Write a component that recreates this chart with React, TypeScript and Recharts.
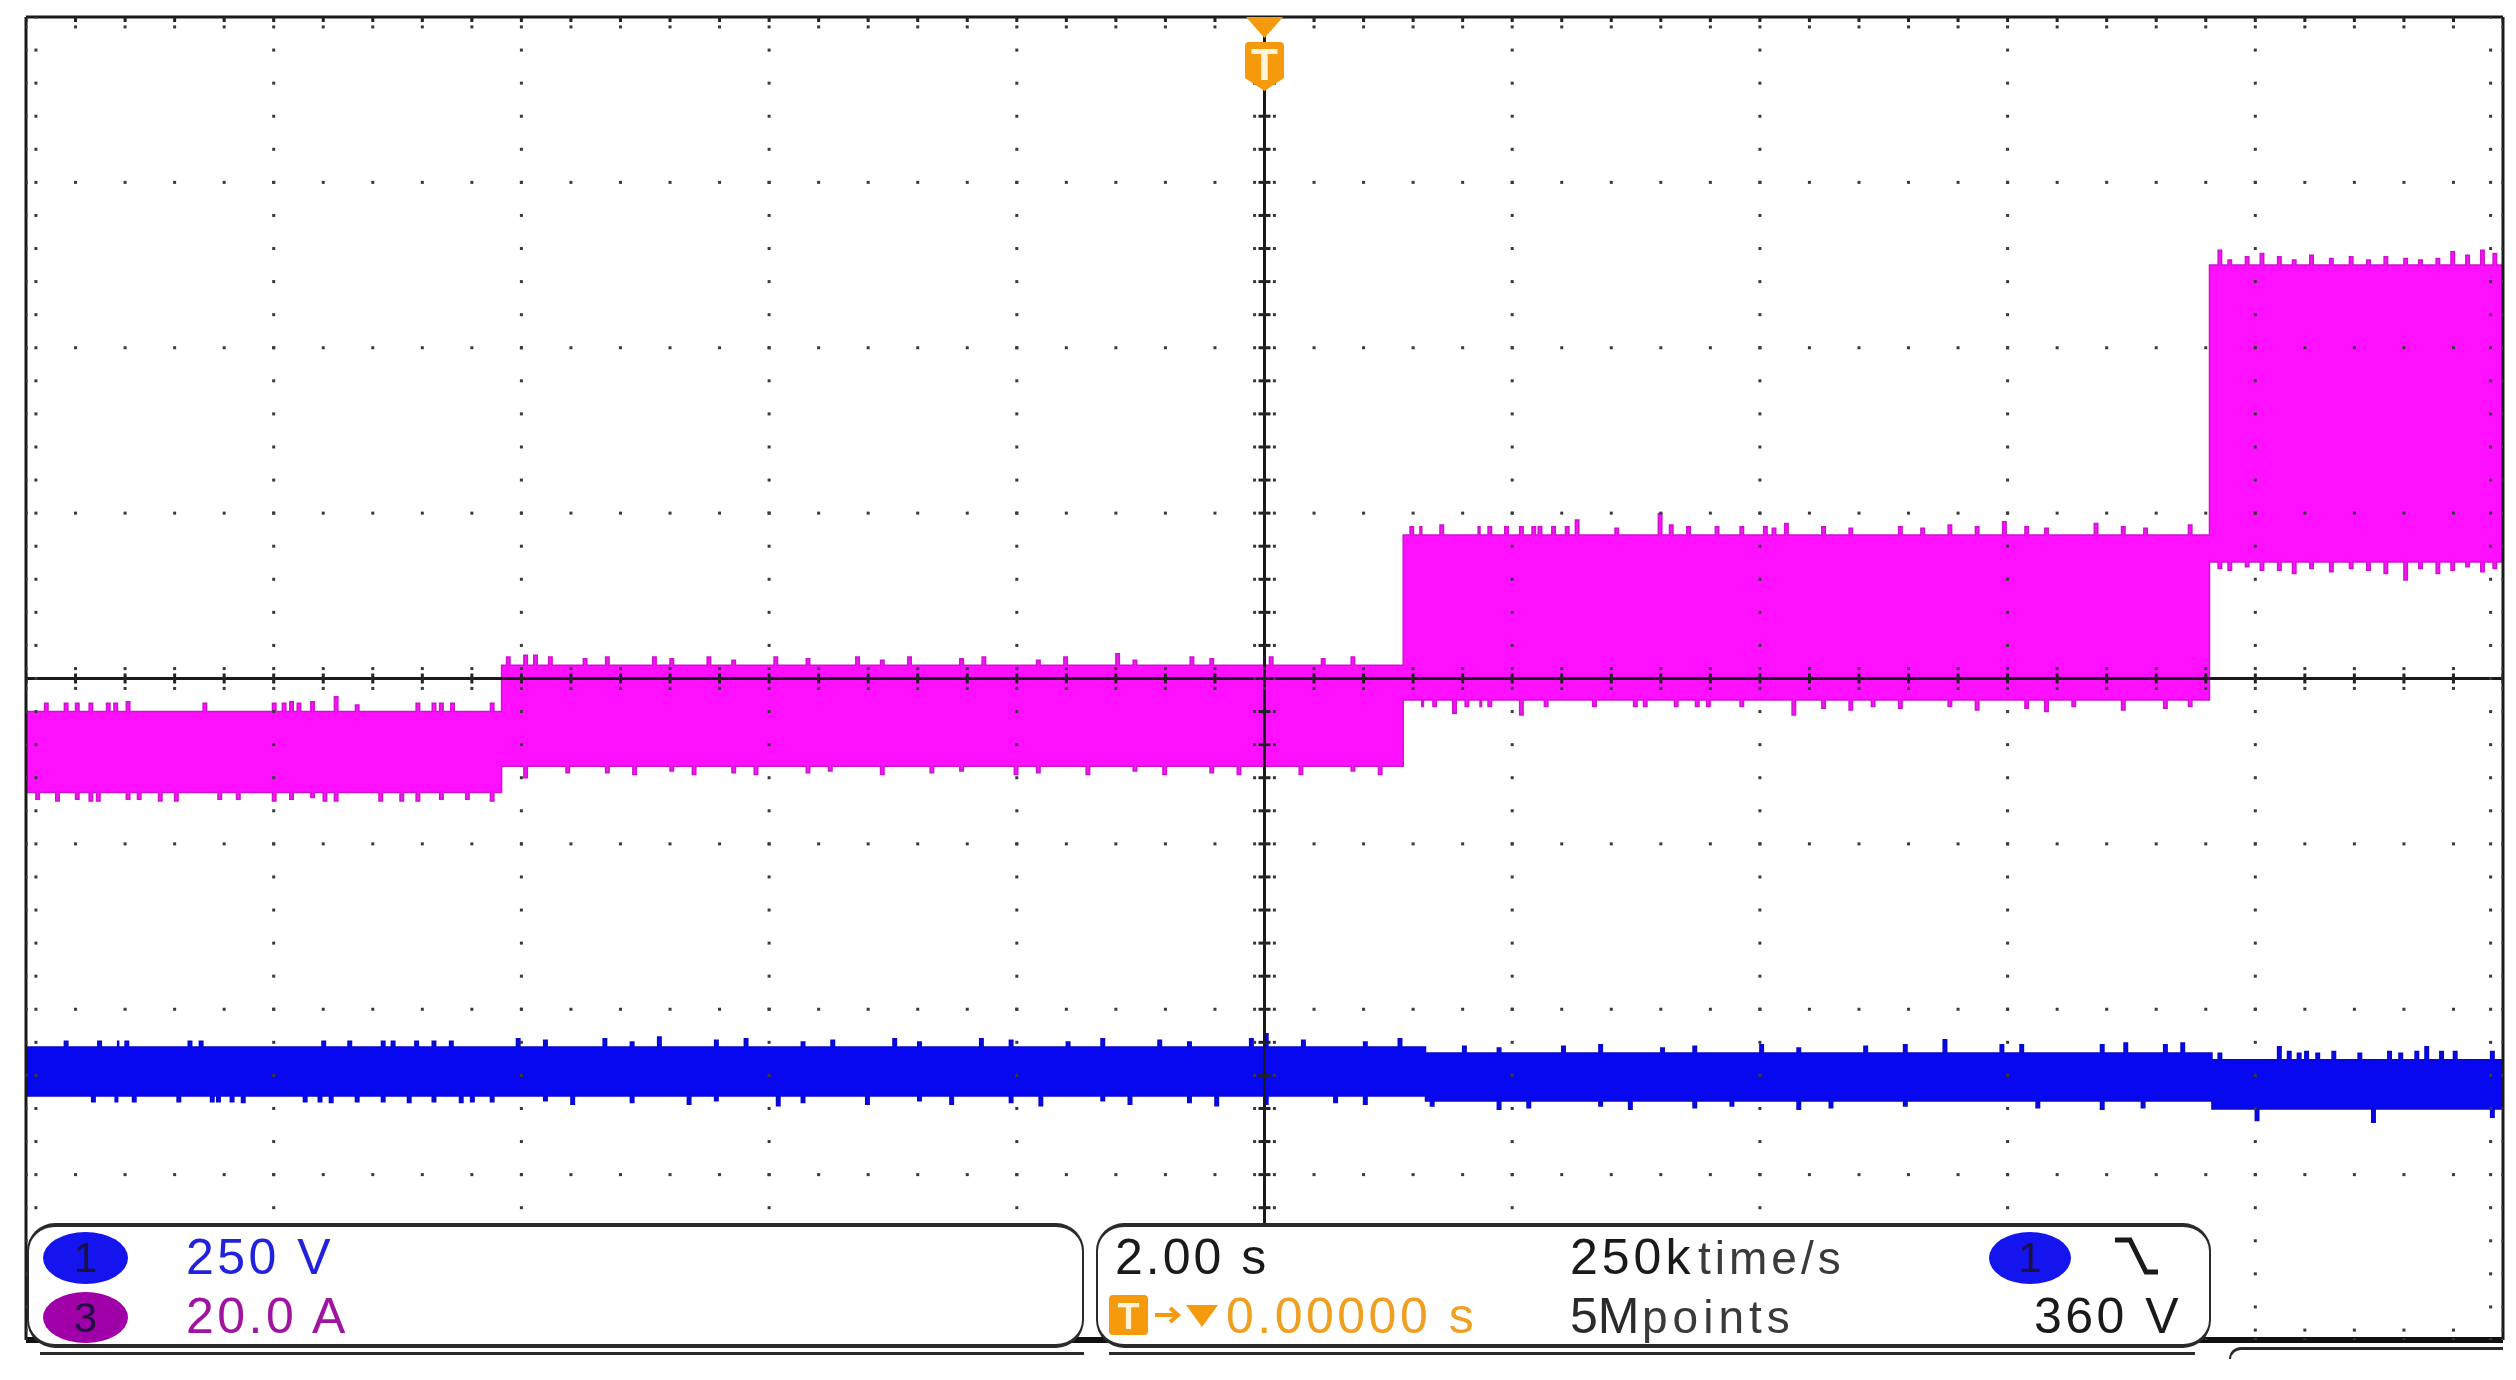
import React from "react";
import { ComposedChart, Area, Scatter, XAxis, YAxis, ReferenceLine } from "recharts";

// time in seconds (2 s/div), vertical position in scope divisions from centre
const majorTimes = [-10, -8, -6, -4, -2, 0, 2, 4, 6, 8, 10];
const majorLevels = [-4, -3, -2, -1, 0, 1, 2, 3, 4];
const minorTimes = [0, 0.4, 0.8, 1.2, 1.6];
const minorLevels = [0, 0.2, 0.4, 0.6, 0.8];

// flat part of the current trace between load steps
const currentStepTime = [-10, -6.16, 1.12, 7.63, 10];
const currentStepHigh = [-0.2, 0.08, 0.868, 2.5, 2.5];
const currentStepLow = [-0.69, -0.53, -0.13, 0.705, 0.705];

// spikes sticking out of the current band
const currentSpikeTime = [
  -9.92, -9.85, -9.76, -9.69, -9.6, -9.49, -9.43, -9.35, -9.29, -9.19, -9.1, -8.93, -8.8, -8.57, -8.45, -8.3,
  -8.01, -7.93, -7.87, -7.81, -7.7, -7.6, -7.51, -7.34, -7.15, -6.98, -6.85, -6.72, -6.66, -6.57, -6.45, -6.25,
  -6.12, -5.98, -5.9, -5.78, -5.64, -5.5, -5.32, -5.1, -4.94, -4.8, -4.62, -4.5, -4.3, -4.12, -3.96, -3.7, -3.52, -3.3,
  -3.1, -2.88, -2.7, -2.46, -2.28, -2.02, -1.84, -1.62, -1.44, -1.2, -1.06, -0.82, -0.6, -0.44, -0.22, 0.04, 0.28, 0.46, 0.7, 0.92,
  1.175, 1.255, 1.27, 1.36, 1.417, 1.52, 1.62, 1.725, 1.74, 1.805, 1.94, 2.06, 2.16, 2.21, 2.26, 2.32, 2.43, 2.51, 2.65, 2.83, 2.98, 3.06, 3.18,
  3.27, 3.31, 3.41, 3.48, 3.57, 3.64, 3.84, 4.03, 4.1, 4.2, 4.26, 4.5, 4.72, 4.9, 5.12, 5.3, 5.52, 5.74, 5.96, 6.14, 6.3, 6.52, 6.7, 6.92, 7.1, 7.26, 7.46,
  7.7, 7.78, 7.92, 8.04, 8.18, 8.3, 8.44, 8.6, 8.76, 8.9, 9.04, 9.2, 9.32, 9.46, 9.58, 9.7, 9.82, 9.92,
];
const currentSpikeUp = [
  0, 0.05, 0, 0.05, 0.05, 0.05, 0, 0.05, 0.05, 0.06, 0, 0, 0, 0.05, 0, 0,
  0.05, 0.05, 0.06, 0.05, 0.06, 0, 0.09, 0.04, 0, 0, 0.05, 0.05, 0.05, 0.05, 0, 0.05,
  0.05, 0.06, 0.06, 0.05, 0, 0.04, 0.05, 0, 0.05, 0.04, 0, 0.05, 0.03, 0, 0.05, 0.04, 0, 0.05,
  0.03, 0.05, 0, 0.04, 0.05, 0, 0.03, 0.05, 0, 0.07, 0.03, 0, 0.05, 0.04, 0, 0.05, 0, 0.04, 0.05, 0,
  0.05, 0.05, 0, 0, 0.06, 0, 0, 0.05, 0, 0.05, 0.05, 0.05, 0.05, 0.05, 0, 0.05, 0.05, 0.09, 0, 0.04, 0, 0, 0.13,
  0.06, 0, 0.05, 0, 0, 0.05, 0.05, 0.05, 0.04, 0.07, 0, 0.05, 0.04, 0, 0.05, 0.04, 0.06, 0.05, 0.08, 0.05, 0.04, 0, 0.07, 0.05, 0.04, 0, 0.06,
  0.09, 0.03, 0.05, 0.07, 0.05, 0.03, 0.06, 0.04, 0.05, 0.03, 0.05, 0.04, 0.03, 0.04, 0.08, 0.06, 0.09, 0.07,
];
const currentSpikeDown = [
  0.04, 0, 0.05, 0, 0.04, 0.05, 0.05, 0, 0, 0.04, 0.04, 0.05, 0.05, 0, 0.04, 0.04,
  0.05, 0, 0.04, 0, 0.03, 0.05, 0.05, 0, 0.05, 0.05, 0.05, 0, 0.04, 0, 0.04, 0.05,
  0, 0.07, 0, 0, 0.04, 0, 0.04, 0.05, 0, 0.03, 0.05, 0, 0.04, 0.05, 0, 0.04, 0.03, 0,
  0.05, 0, 0.04, 0.03, 0, 0.05, 0.04, 0, 0.05, 0, 0.03, 0.05, 0, 0.04, 0.05, 0, 0.05, 0, 0.03, 0.05,
  0, 0, 0.04, 0.04, 0, 0.08, 0.04, 0, 0.04, 0.04, 0, 0.09, 0, 0, 0.04, 0, 0, 0, 0.04, 0, 0.04, 0.04, 0,
  0, 0.04, 0, 0.04, 0.04, 0, 0.04, 0, 0, 0, 0.09, 0.05, 0.06, 0.04, 0.05, 0, 0.04, 0.06, 0, 0.05, 0.07, 0.04, 0, 0.06, 0, 0.05, 0.04,
  0.04, 0.05, 0.03, 0.05, 0.05, 0.07, 0.04, 0.06, 0.04, 0.05, 0.07, 0.11, 0.04, 0.07, 0.05, 0.03, 0.06, 0.04,
];

// voltage trace sags a little with each load step
const voltageStepTime = [-10, 1.3, 7.65, 10];
const voltageStepHigh = [-2.228, -2.264, -2.306, -2.306];
const voltageStepLow = [-2.524, -2.555, -2.603, -2.603];

const voltageSpikeTime = [
  -9.69, -9.47, -9.42, -9.28, -9.26, -9.2, -9.14, -8.78, -8.69, -8.6, -8.51, -8.46, -8.35, -8.26, -7.76, -7.64, -7.61, -7.55, -7.4, -7.34,
  -7.13, -7.05, -6.92, -6.86, -6.72, -6.58, -6.5, -6.41, -6.25, -6.04,
  -5.82, -5.6, -5.34, -5.12, -4.9, -4.66, -4.44, -4.2, -3.94, -3.74, -3.5, -3.22, -3.0, -2.8, -2.54, -2.3, -2.06, -1.82,
  -1.6, -1.32, -1.1, -0.86, -0.62, -0.4, -0.12, 0.0, 0.3, 0.56, 0.8, 1.08, 1.34, 1.6, 1.88, 2.12, 2.4, 2.7, 2.94, 3.2,
  3.46, 3.76, 4.0, 4.3, 4.56, 4.84, 5.16, 5.48, 5.94, 6.1, 6.23, 6.75, 6.94, 7.08, 7.26, 7.4, 7.7, 8.0, 8.18, 8.26, 8.34,
  8.4, 8.49, 8.62, 8.83, 8.94, 9.07, 9.16, 9.29, 9.37, 9.49, 9.6, 9.9,
];
const voltageSpikeUp = [
  0.035, 0, 0.035, 0, 0.035, 0.035, 0, 0, 0.035, 0.035, 0, 0, 0, 0, 0, 0, 0.035, 0, 0.035, 0,
  0.035, 0.035, 0, 0.035, 0.035, 0.035, 0, 0, 0, 0.05,
  0.04, 0, 0.05, 0.03, 0.06, 0, 0.04, 0.05, 0, 0.03, 0.04, 0, 0.05, 0.03, 0, 0.05, 0.04, 0,
  0.03, 0.05, 0, 0.04, 0.03, 0, 0.05, 0.08, 0.04, 0, 0.03, 0.05, 0, 0.04, 0.03, 0, 0.04, 0.05, 0, 0.03,
  0.04, 0, 0.05, 0.03, 0, 0.04, 0.05, 0.08, 0.05, 0.05, 0, 0.05, 0.06, 0, 0.05, 0.06, 0.04, 0, 0.08, 0.05, 0.04,
  0.05, 0.04, 0.05, 0.04, 0, 0.05, 0.04, 0.05, 0.08, 0.05, 0.05, 0.05,
];
const voltageSpikeDown = [
  0, 0.035, 0, 0.035, 0, 0, 0.035, 0.035, 0, 0, 0.035, 0.035, 0.035, 0.04, 0.035, 0.035, 0, 0.04, 0, 0.035,
  0.035, 0, 0.04, 0, 0.035, 0, 0.04, 0.035, 0.035, 0,
  0.03, 0.05, 0, 0.04, 0, 0.05, 0.03, 0, 0.06, 0.04, 0, 0.05, 0, 0.03, 0.05, 0, 0.04, 0.06,
  0, 0.03, 0.05, 0, 0.04, 0.06, 0, 0.05, 0, 0.04, 0.05, 0, 0.03, 0, 0.05, 0.04, 0, 0.03, 0.05, 0,
  0.04, 0.03, 0, 0.05, 0.04, 0, 0.03, 0, 0, 0, 0.04, 0.05, 0, 0.04, 0, 0, 0, 0.07, 0, 0, 0,
  0, 0, 0, 0, 0.08, 0, 0, 0, 0, 0, 0, 0.05,
];

const spikeWidth = 0.028;

function buildTrace(stepTime: number[], stepHigh: number[], stepLow: number[], spikeTime: number[], up: number[], down: number[]) {
  const baseAt = (t: number) => {
    let i = 0;
    while (i < stepTime.length - 1 && stepTime[i + 1] <= t) i++;
    return i;
  };
  const rows = stepTime.map((t, i) => ({ t, high: stepHigh[i], low: stepLow[i] }));
  spikeTime.forEach((t, i) => {
    const b = baseAt(t);
    rows.push({ t, high: stepHigh[b] + up[i], low: stepLow[b] - down[i] });
    rows.push({ t: t + spikeWidth, high: stepHigh[b], low: stepLow[b] });
  });
  return rows.sort((a, b) => a.t - b.t);
}

const currentTrace = buildTrace(currentStepTime, currentStepHigh, currentStepLow, currentSpikeTime, currentSpikeUp, currentSpikeDown);
const voltageTrace = buildTrace(voltageStepTime, voltageStepHigh, voltageStepLow, voltageSpikeTime, voltageSpikeUp, voltageSpikeDown);

// scope graticule: dots along every major line, ticks on the centre cross
const allMinorTimes = majorTimes.slice(0, -1).flatMap((m) => minorTimes.map((s) => m + s)).concat(10);
const allMinorLevels = majorLevels.slice(0, -1).flatMap((m) => minorLevels.map((s) => m + s)).concat(4);

const graticuleDots = [
  ...majorLevels.flatMap((y) => allMinorTimes.map((t) => ({ t, y }))),
  ...majorTimes.flatMap((t) => allMinorLevels.map((y) => ({ t, y }))),
  ...allMinorTimes.flatMap((t) => [
    { t, y: 0.06 },
    { t, y: -0.06 },
    { t, y: 3.94 },
    { t, y: -3.94 },
  ]),
  ...allMinorLevels.flatMap((y) => [
    { t: 0.08, y },
    { t: -0.08, y },
    { t: -9.92, y },
    { t: 9.9, y },
  ]),
];
const crossTicksX = allMinorTimes.flatMap((t) => [{ t, y: 0 }, { t, y: 4 }]);
const crossTicksY = allMinorLevels.map((y) => ({ t: 0, y }));

const Dot = (p: any) => <rect x={p.cx - 1.5} y={p.cy - 1.5} width={3} height={3} fill="#3a3a3a" />;
const TickV = (p: any) => <rect x={p.cx - 1.5} y={p.cy - 5} width={3} height={10} fill="#222" />;
const TickH = (p: any) => <rect x={p.cx - 6} y={p.cy - 1.5} width={12} height={3} fill="#222" />;

const font = '"Liberation Sans", Arial, sans-serif';

function Label(props: { x: number; base: number; size?: number; color: string; spacing?: number; text: string }) {
  const size = props.size ?? 50;
  return (
    <div
      style={{
        position: "absolute",
        left: props.x,
        top: props.base - size * 0.8465,
        fontFamily: font,
        fontSize: size,
        lineHeight: 1,
        letterSpacing: props.spacing ?? 3,
        color: props.color,
        whiteSpace: "pre",
      }}
    >
      {props.text}
    </div>
  );
}

function Badge(props: { x: number; y: number; w: number; h: number; color: string; text: string }) {
  return (
    <div
      style={{
        position: "absolute",
        left: props.x,
        top: props.y,
        width: props.w,
        height: props.h,
        borderRadius: "50%",
        background: props.color,
        color: "#1c1040",
        fontFamily: font,
        fontSize: 42,
        lineHeight: `${props.h}px`,
        textAlign: "center",
      }}
    >
      {props.text}
    </div>
  );
}

const panelStyle = (x: number, w: number): React.CSSProperties => ({
  position: "absolute",
  left: x,
  top: 1223,
  width: w,
  height: 125,
  boxSizing: "border-box",
  background: "#fff",
  border: "2px solid #2a2a2a",
  borderTopWidth: 4,
  borderBottomWidth: 4,
  borderRadius: 28,
});

const hairline = (x: number, y: number, w: number, h: number): React.CSSProperties => ({
  position: "absolute",
  left: x,
  top: y,
  width: w,
  height: h,
  background: "#2a2a2a",
});

export default function App() {
  return (
    <div style={{ position: "absolute", left: 0, top: 0, width: 2516, height: 1380, background: "#fff", overflow: "hidden", filter: "blur(0.7px)" }}>
      <ComposedChart width={2516} height={1380} margin={{ top: 17, right: 13, bottom: 40, left: 26 }}>
        <XAxis type="number" dataKey="t" domain={[-10, 10]} hide allowDataOverflow />
        <YAxis type="number" dataKey="y" domain={[-4, 4]} hide allowDataOverflow />
        <Scatter data={graticuleDots} shape={Dot} isAnimationActive={false} />
        <Area
          data={currentTrace}
          dataKey={(d: any) => [d.low, d.high]}
          type="stepAfter"
          stroke="#cc14cc"
          strokeWidth={1.5}
          fill="#ff00ff"
          fillOpacity={0.94}
          dot={false}
          activeDot={false}
          isAnimationActive={false}
        />
        <Area
          data={voltageTrace}
          dataKey={(d: any) => [d.low, d.high]}
          type="stepAfter"
          stroke="#0808c8"
          strokeWidth={1.5}
          fill="#0000f0"
          fillOpacity={0.97}
          dot={false}
          activeDot={false}
          isAnimationActive={false}
        />
        <ReferenceLine x={0} stroke="#1a1a1a" strokeWidth={3} />
        <ReferenceLine y={0} stroke="#1a1a1a" strokeWidth={3} />
        <ReferenceLine x={-10} stroke="#1a1a1a" strokeWidth={3} />
        <ReferenceLine x={10} stroke="#1a1a1a" strokeWidth={3} />
        <ReferenceLine y={4} stroke="#1a1a1a" strokeWidth={3} />
        <ReferenceLine y={-4} stroke="#111" strokeWidth={6} />
        <Scatter data={crossTicksX} shape={TickV} isAnimationActive={false} />
        <Scatter data={crossTicksY} shape={TickH} isAnimationActive={false} />
      </ComposedChart>

      {/* trigger marker */}
      <svg width={60} height={100} style={{ position: "absolute", left: 1235, top: 10 }}>
        <path d="M11 7 L48 7 L29.5 28 Z" fill="#f59a0c" />
        <path d="M10 36 Q10 32 14 32 L45 32 Q49 32 49 36 L49 68 L29.5 81 L10 68 Z" fill="#f59a0c" />
        <text x={29.5} y={70} textAnchor="middle" fontFamily={font} fontWeight="bold" fontSize={44} fill="#fff3d8">
          T
        </text>
      </svg>

      {/* readout panels */}
      <div style={hairline(40, 1352, 1044, 3)} />
      <div style={hairline(1109, 1352, 1086, 3)} />
      <div style={panelStyle(27, 1057)} />
      <div style={panelStyle(1096, 1115)} />
      <div style={{ position: "absolute", left: 2229, top: 1347, width: 274, height: 12, boxSizing: "border-box", borderTop: "3px solid #2a2a2a", borderLeft: "2px solid #2a2a2a", borderTopLeftRadius: 12 }} />

      <Badge x={43} y={1232} w={85} h={52} color="#1414ee" text="1" />
      <Badge x={43} y={1292} w={85} h={51} color="#a000a8" text="3" />
      <Label x={186} base={1274} color="#2222dd" spacing={3.5} text="250 V" />
      <Label x={186} base={1333} color="#a0149f" spacing={3.5} text="20.0 A" />

      <Label x={1115} base={1274} color="#1a1a1a" text="2.00 s" />
      <svg width={44} height={46} style={{ position: "absolute", left: 1109, top: 1294 }}>
        <rect x={0} y={1} width={39} height={40} rx={4} fill="#f59a0c" />
        <text x={19.5} y={35} textAnchor="middle" fontFamily={font} fontWeight="bold" fontSize={36} fill="#fff3d8">
          T
        </text>
      </svg>
      <svg width={70} height={40} style={{ position: "absolute", left: 1152, top: 1296 }}>
        <path d="M3 19 L24 19 M18 12 L26 19 L18 26" stroke="#f59a0c" strokeWidth={4} fill="none" />
        <path d="M34 9 L66 9 L50 31 Z" fill="#f59a0c" />
      </svg>
      <Label x={1226} base={1333} color="#efa020" spacing={3.5} text="0.00000 s" />

      <Label x={1570} base={1274} color="#1a1a1a" spacing={4} text="250k" />
      <Label x={1698} base={1274} size={46} color="#3a3a3a" spacing={4} text="time/s" />
      <Label x={1570} base={1333} color="#2a2a2a" spacing={0} text="5M" />
      <Label x={1642} base={1333} size={46} color="#3a3a3a" spacing={5} text="points" />

      <Badge x={1989} y={1232} w={82} h={52} color="#1414ee" text="1" />
      <svg width={50} height={44} style={{ position: "absolute", left: 2112, top: 1236 }}>
        <path d="M3 4 L18 4 L34 36 L46 36" stroke="#1a1a1a" strokeWidth={5} fill="none" />
      </svg>
      <Label x={2034} base={1333} color="#1a1a1a" spacing={3.5} text="360 V" />
    </div>
  );
}
